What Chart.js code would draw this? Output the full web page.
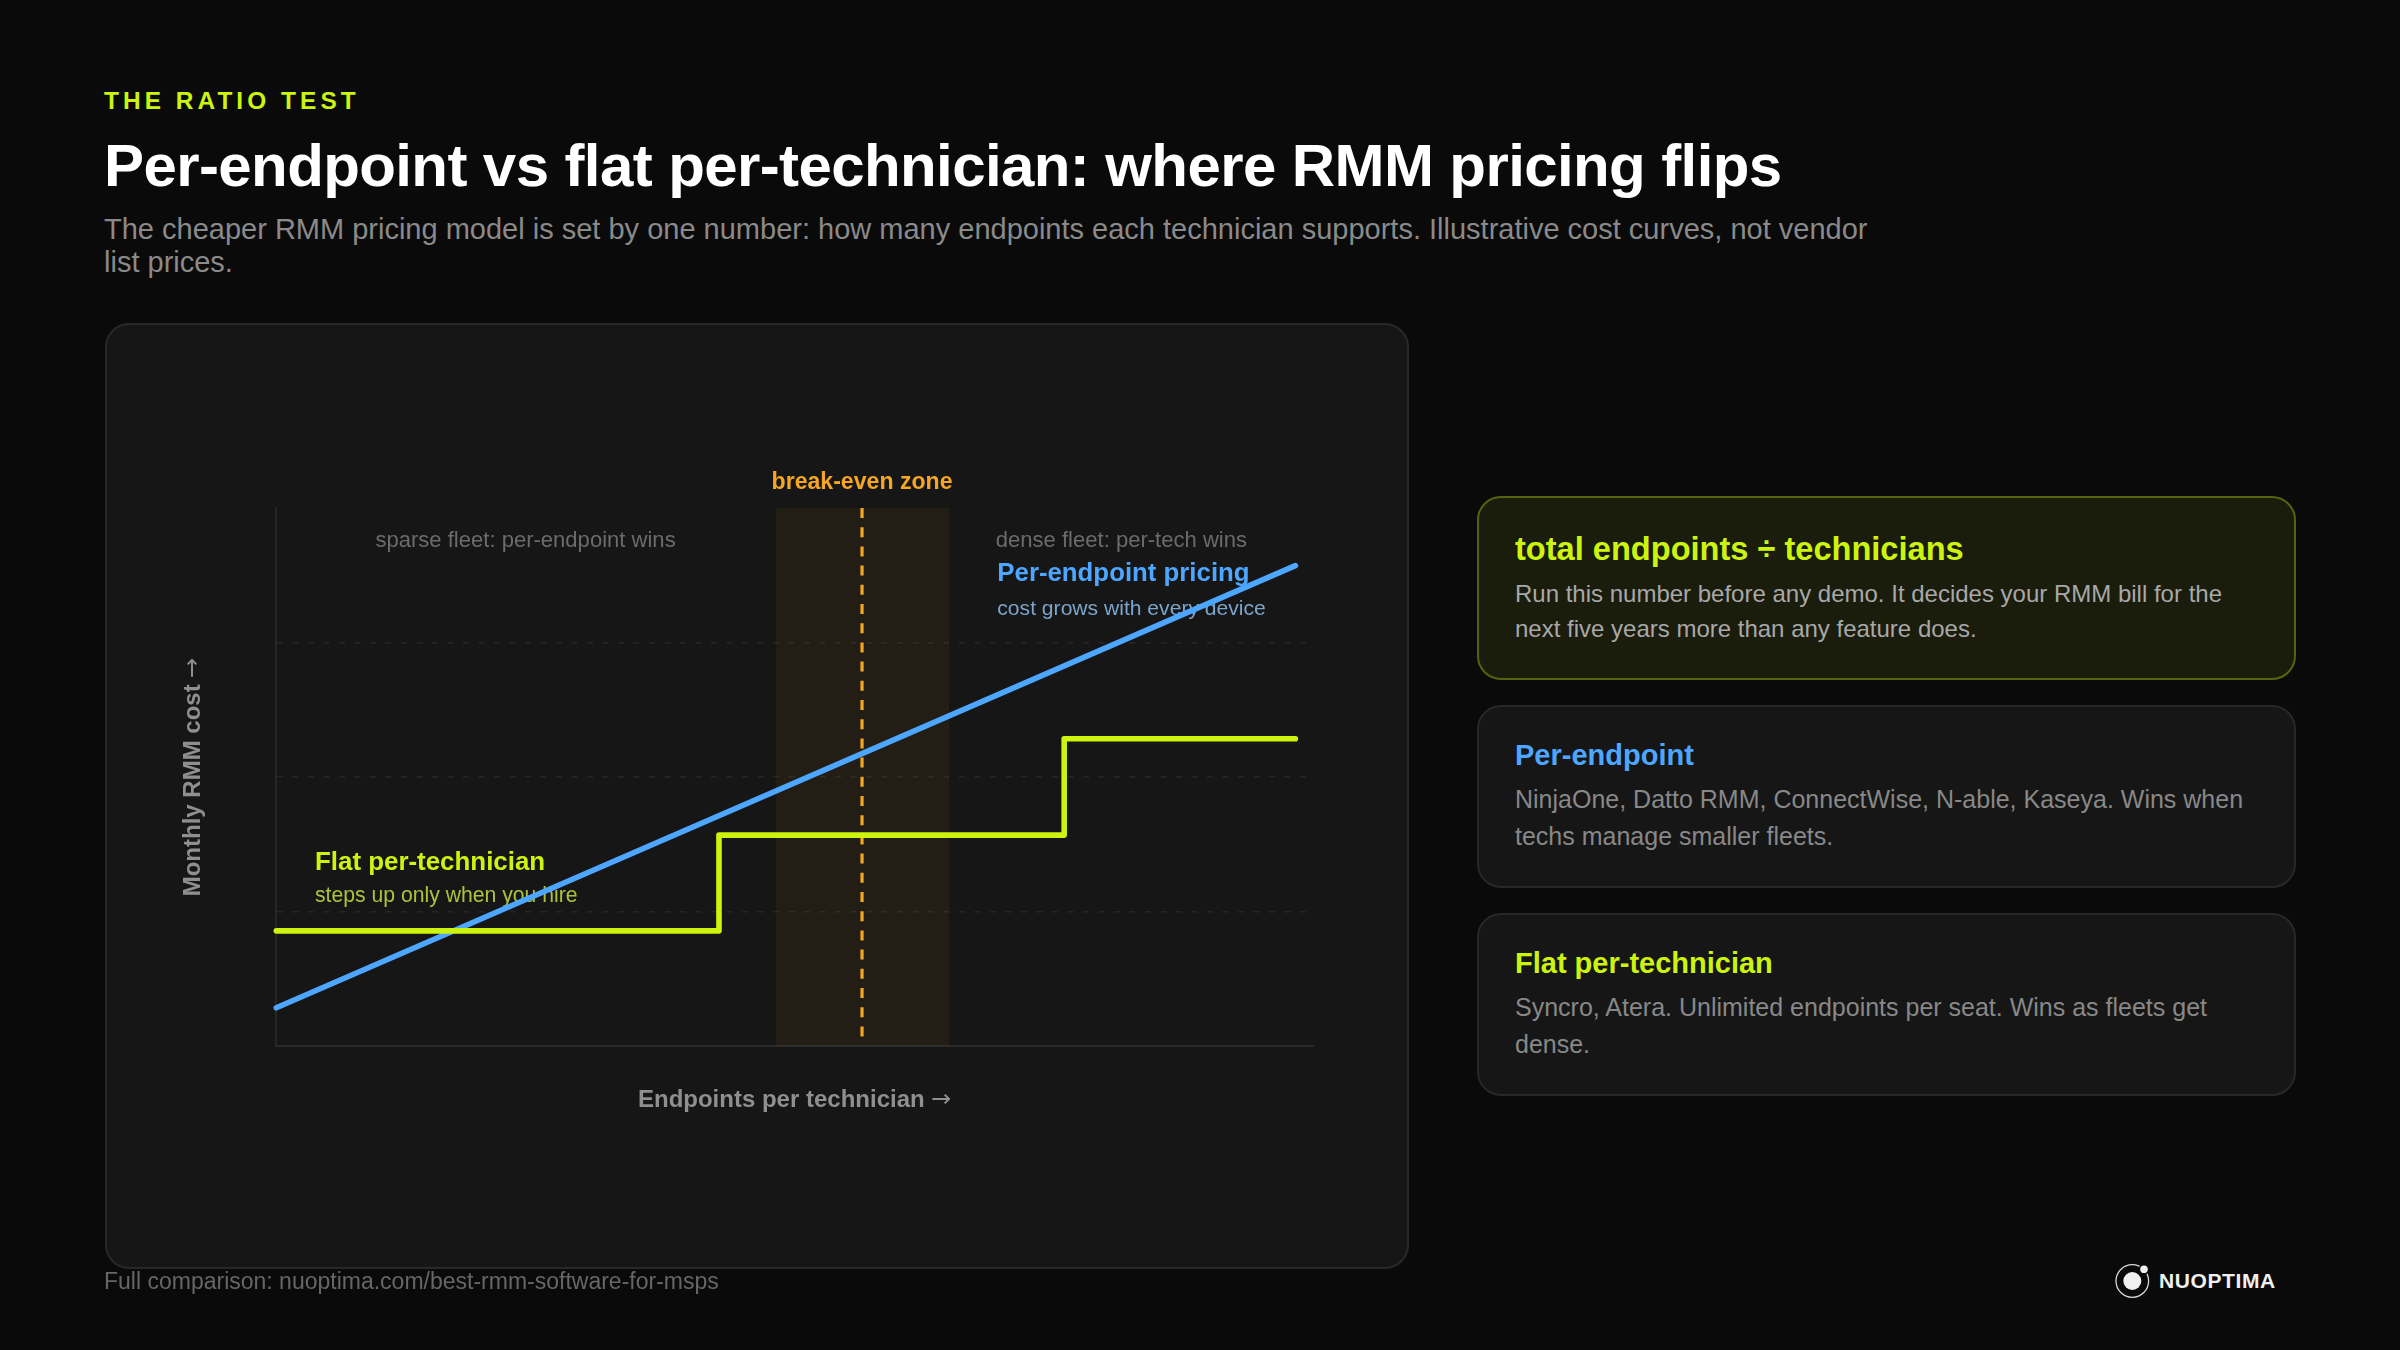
<!DOCTYPE html>
<html>
<head>
<meta charset="utf-8">
<title>Per-endpoint vs flat per-technician</title>
<script src="https://cdn.jsdelivr.net/npm/chart.js@4"></script>
<style>
  /* the arrow in the axis titles comes from DejaVu, everything else from Liberation */
  @font-face { font-family: "AxisArrow"; src: local("DejaVu Sans"); unicode-range: U+2192; font-weight: 100 900; }
  html, body { margin: 0; padding: 0; background: #0a0a0a; }
  body { position: relative; width: 2400px; height: 1350px; overflow: hidden; font-family: "Liberation Sans", Arial, sans-serif; }
  .box { position: absolute; box-sizing: border-box; border-radius: 24px; background: #161616; border: 2px solid #282828; }
  .box.hero { background: #1a1c0c; border-color: #556310; }
  .txt { position: absolute; white-space: nowrap; line-height: 1; }
  #chartWrap { position: absolute; left: 105px; top: 323px; width: 1304px; height: 946px; }
  #logo { position: absolute; left: 2110px; top: 1260px; }
</style>
</head>
<body>
<div class="box" style="left:105px;top:323px;width:1304px;height:946px"></div>
<div class="box hero" style="left:1477px;top:496px;width:818.5px;height:184px"></div>
<div class="box" style="left:1477px;top:705px;width:818.5px;height:183px"></div>
<div class="box" style="left:1477px;top:913px;width:818.5px;height:183px"></div>
<div id="chartWrap"><canvas id="ratioChart" width="1304" height="946"></canvas></div>
<svg id="logo" width="44" height="44" viewBox="0 0 44 44">
  <circle cx="22.3" cy="21" r="16.3" fill="none" stroke="#d8d8d8" stroke-width="1.3"/>
  <circle cx="22.3" cy="21" r="9" fill="#f0f0f0"/>
  <circle cx="34" cy="9.3" r="5.4" fill="#0a0a0a"/>
  <circle cx="34" cy="9.3" r="3.8" fill="#f0f0f0"/>
</svg>
<script>
  // Illustrative cost curves (both axes 0-100, no units)
  var perEndpointX = [0, 98.3];
  var perEndpointY = [7.1, 89.3];
  var flatX = [0, 42.7, 42.7, 76, 76, 98.3];
  var flatY = [21.4, 21.4, 39.2, 39.2, 57.1, 57.1];
  var bandX = [48.2, 64.9];
  var bandY = [100, 100];
  var breakEvenX = [56.5, 56.5];
  var breakEvenY = [100, 1.64];

  var LIME = "#ccf40f";
  var BLUE = "#4da6ff";
  var AMBER = "#f5a623";
  var TITLE_FONT = '"AxisArrow", "Liberation Sans", Arial, sans-serif';

  function toPoints(xs, ys) {
    return xs.map(function (x, i) { return { x: x, y: ys[i] }; });
  }

  // Page text, placed by baseline
  function putText(text, x, baseline, size, weight, color, spacing) {
    var el = document.createElement("div");
    el.className = "txt";
    el.textContent = text;
    el.style.left = x + "px";
    el.style.top = (baseline - 0.5 * size - 0.3465 * size) + "px";
    el.style.fontSize = size + "px";
    el.style.fontWeight = weight;
    el.style.color = color;
    if (spacing) el.style.letterSpacing = spacing + "px";
    document.body.appendChild(el);
  }

  putText("THE RATIO TEST", 104, 110, 24.4, 700, LIME, 4.07);
  putText("Per-endpoint vs flat per-technician: where RMM pricing flips", 104, 187, 60, 700, "#ffffff", -0.6);
  putText("The cheaper RMM pricing model is set by one number: how many endpoints each technician supports. Illustrative cost curves, not vendor", 104, 240, 29, 400, "#8a8a8a");
  putText("list prices.", 104, 273, 29, 400, "#8a8a8a");

  putText("total endpoints ÷ technicians", 1515, 560.5, 32.6, 700, LIME);
  putText("Run this number before any demo. It decides your RMM bill for the", 1515, 602, 24, 400, "#a8a8a8");
  putText("next five years more than any feature does.", 1515, 637, 24, 400, "#a8a8a8");
  putText("Per-endpoint", 1515, 765.5, 29, 700, BLUE);
  putText("NinjaOne, Datto RMM, ConnectWise, N-able, Kaseya. Wins when", 1515, 808, 25, 400, "#888888");
  putText("techs manage smaller fleets.", 1515, 845, 25, 400, "#888888");
  putText("Flat per-technician", 1515, 973.5, 29, 700, LIME);
  putText("Syncro, Atera. Unlimited endpoints per seat. Wins as fleets get", 1515, 1016, 25, 400, "#888888");
  putText("dense.", 1515, 1053, 25, 400, "#888888");

  putText("Full comparison: nuoptima.com/best-rmm-software-for-msps", 104, 1289.5, 23, 400, "#666666");
  putText("NUOPTIMA", 2159, 1288, 21, 700, "#f0f0f0", 0.6);

  // Notes inside the plot, in axis units, drawn under the lines
  var plotNotes = [
    { text: "break-even zone", x: 56.5, y: 103.6, size: 23.1, weight: 700, color: AMBER, align: "center" },
    { text: "sparse fleet: per-endpoint wins", x: 9.56, y: 92.76, size: 22.05, weight: 400, color: "#6b6b6b" },
    { text: "dense fleet: per-tech wins", x: 69.4, y: 92.76, size: 22.05, weight: 400, color: "#6b6b6b" },
    { text: "Per-endpoint pricing", x: 69.55, y: 86.5, size: 25.8, weight: 700, color: BLUE },
    { text: "cost grows with every device", x: 69.55, y: 80.2, size: 21.1, weight: 400, color: "#7ba5cc" },
    { text: "Flat per-technician", x: 3.73, y: 32.8, size: 25.9, weight: 700, color: LIME },
    { text: "steps up only when you hire", x: 3.73, y: 26.7, size: 21.2, weight: 400, color: "#adc23a" }
  ];

  var notesPlugin = {
    id: "plotNotes",
    beforeDatasetsDraw: function (chart) {
      var ctx = chart.ctx;
      ctx.save();
      ctx.textBaseline = "alphabetic";
      plotNotes.forEach(function (n) {
        ctx.font = n.weight + " " + n.size + 'px "Liberation Sans", Arial, sans-serif';
        ctx.fillStyle = n.color;
        ctx.textAlign = n.align || "left";
        ctx.fillText(n.text, chart.scales.x.getPixelForValue(n.x), chart.scales.y.getPixelForValue(n.y));
      });
      ctx.restore();
    }
  };

  function drawChart() {
    new Chart(document.getElementById("ratioChart"), {
      type: "scatter",
      plugins: [notesPlugin],
      data: {
        datasets: [
          {
            label: "Flat per-technician",
            data: toPoints(flatX, flatY),
            showLine: true, borderColor: LIME, borderWidth: 5.6, pointRadius: 0,
            borderCapStyle: "round", borderJoinStyle: "round", clip: false, order: 1
          },
          {
            label: "Per-endpoint pricing",
            data: toPoints(perEndpointX, perEndpointY),
            showLine: true, borderColor: BLUE, borderWidth: 5.6, pointRadius: 0,
            borderCapStyle: "round", clip: false, order: 2
          },
          {
            label: "Break-even",
            data: toPoints(breakEvenX, breakEvenY),
            showLine: true, borderColor: AMBER, borderWidth: 3.2, borderDash: [10, 9.2], pointRadius: 0, order: 3
          },
          {
            label: "Break-even zone",
            data: toPoints(bandX, bandY),
            showLine: true, borderWidth: 0, borderColor: "transparent", pointRadius: 0,
            fill: "origin", backgroundColor: "rgba(245,166,35,0.06)", order: 4
          }
        ]
      },
      options: {
        responsive: false,
        animation: false,
        events: [],
        layout: { padding: { left: 75.2, right: 96, top: 185, bottom: 155.1 } },
        plugins: { legend: { display: false }, tooltip: { enabled: false } },
        scales: {
          x: {
            type: "linear", min: 0, max: 100,
            grid: { display: false, drawTicks: false },
            border: { display: true, color: "#2a2a2a", width: 2 },
            ticks: { display: false },
            title: {
              display: true, text: "Endpoints per technician →", color: "#8f8f8f",
              font: { family: TITLE_FONT, size: 24, weight: "700", lineHeight: 1.1 },
              padding: { top: 41.5, bottom: 0 }
            }
          },
          y: {
            type: "linear", min: 0, max: 100,
            grid: {
              drawTicks: false,
              color: function (c) { return c.tick.value === 0 || c.tick.value === 100 ? "transparent" : "#262626"; },
              lineWidth: 1.5
            },
            border: { display: true, color: "#262626", width: 2, dash: [6, 9.5] },
            ticks: { display: false, stepSize: 25 },
            title: {
              display: true, text: "Monthly RMM cost →", color: "#8f8f8f",
              font: { family: TITLE_FONT, size: 24, weight: "700", lineHeight: 1.1 },
              padding: { top: 0, bottom: 69.7 }
            }
          }
        }
      }
    });
  }

  // local() faces load lazily, the canvas needs the arrow ready before it draws
  document.fonts.load('700 24px "AxisArrow"', "→").then(drawChart, drawChart);
</script>
</body>
</html>
